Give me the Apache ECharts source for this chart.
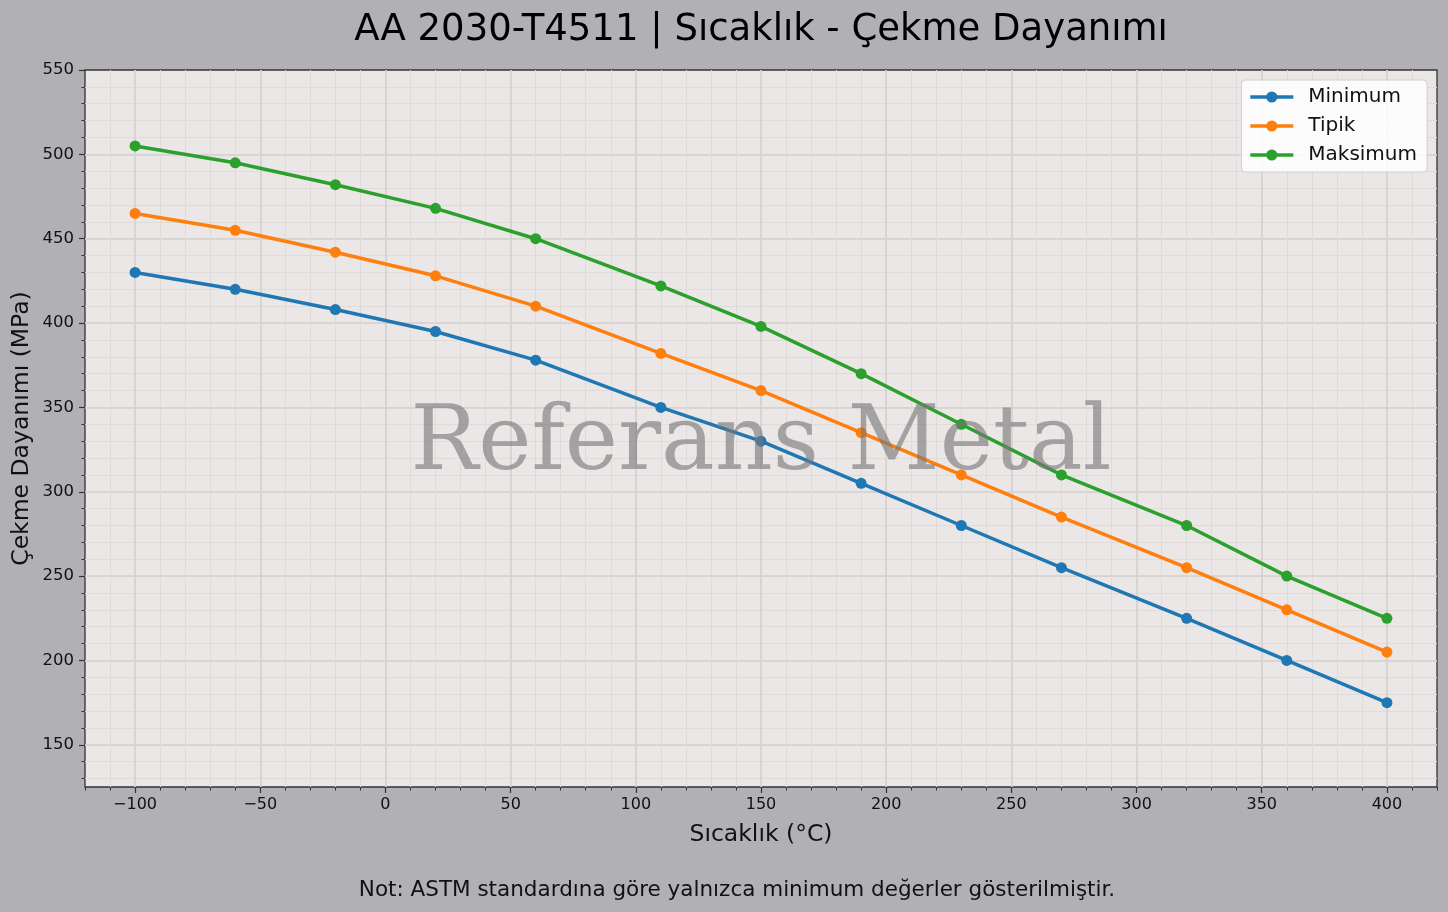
<!DOCTYPE html>
<html>
<head>
<meta charset="utf-8">
<script src="https://cdn.jsdelivr.net/npm/echarts@6/dist/echarts.min.js"></script>
<style>
html,body{margin:0;padding:0;background:#b1b0b5;}
#chart{width:1448px;height:912px;}
</style>
</head>
<body>
<div id="chart"></div>
<script>
const temperatures = [-100, -60, -20, 20, 60, 110, 150, 190, 230, 270, 320, 360, 400];
const minimumValues = [430, 420, 408, 395, 378, 350, 330, 305, 280, 255, 225, 200, 175];
const typicalValues = [465, 455, 442, 428, 410, 382, 360, 335, 310, 285, 255, 230, 205];
const maximumValues = [505, 495, 482, 468, 450, 422, 398, 370, 340, 310, 280, 250, 225];
const seriesNames = ['Minimum', 'Tipik', 'Maksimum'];
const seriesColors = ['#1f77b4', '#ff7f0e', '#2ca02c'];
const titleText = 'AA 2030-T4511 | Sıcaklık - Çekme Dayanımı';
const xAxisTitle = 'Sıcaklık (°C)';
const yAxisTitle = 'Çekme Dayanımı (MPa)';
const noteText = 'Not: ASTM standardına göre yalnızca minimum değerler gösterilmiştir.';
const watermarkText = 'Referans Metal';

const X_MIN = -120, X_MAX = 420, Y_MIN = 125, Y_MAX = 550;
const MAJOR_X_MIN = -100, MAJOR_X_MAX = 400, MAJOR_Y_MIN = 150;
const MINOR_Y_MIN = 130;

// plot frame in pixels
const W = 1448, H = 912;
const plotL = 85, plotR = 1437, plotT = 70, plotB = 787;
const sx = (plotR - plotL) / (X_MAX - X_MIN);
const sy = (plotB - plotT) / (Y_MAX - Y_MIN);
const plotCX = (plotL + plotR) / 2, plotCY = (plotT + plotB) / 2;

const FONT = 'DejaVu Sans';
const MAJ = '#d5d1d0', MIN = '#dfdbda';

function pairs(vals){ return temperatures.map((t,i)=>[t, vals[i]]); }

const chart = echarts.init(document.getElementById('chart'), null, {renderer:'canvas'});

const majLeft = plotL + (MAJOR_X_MIN - X_MIN) * sx;
const majRight = W - (plotR - (X_MAX - MAJOR_X_MAX) * sx);
const majBottom = H - (plotB - (MAJOR_Y_MIN - Y_MIN) * sy);

const grids = [
  // 0 A: main plot
  {left: plotL, right: W - plotR, top: plotT, bottom: H - plotB, show: true,
   backgroundColor: '#ebe7e6', borderColor: '#333', borderWidth: 1.3, containLabel: false},
  // 1 B: minor y ticks / grid
  {left: plotL, right: W - plotR, top: plotT, bottom: H - (plotB - (MINOR_Y_MIN - Y_MIN) * sy), containLabel: false},
  // 2 C: major ticks and labels
  {left: majLeft, right: majRight, top: plotT, bottom: majBottom, containLabel: false},
  // 3 D: major vertical grid lines (full height)
  {left: majLeft, right: majRight, top: plotT, bottom: H - plotB, containLabel: false},
  // 4 E: major horizontal grid lines (full width)
  {left: plotL, right: W - plotR, top: plotT, bottom: majBottom, containLabel: false}
];

const xOffsetC = (MAJOR_Y_MIN - Y_MIN) * sy;
const yOffsetC = (MAJOR_X_MIN - X_MIN) * sx;
const hidden = {axisLine: {show: false, onZero: false}, axisTick: {show: false}, axisLabel: {show: false}};

const option = {
  backgroundColor: '#b1b0b5',
  animation: false,
  legend: {
    data: seriesNames, orient: 'vertical', right: 21, top: 80,
    itemWidth: 43, itemHeight: 14, itemGap: 7,
    padding: [6, 10, 6, 7],
    lineStyle: {width: 3.5},
    backgroundColor: 'rgba(255,255,255,0.85)', borderColor: '#d0d0d0', borderWidth: 1, borderRadius: 4,
    textStyle: {fontFamily: FONT, fontSize: 20, color: '#111', lineHeight: 22, padding: [0, 0, 0, 10]}
  },
  grid: grids,
  xAxis: [
    {gridIndex: 0, type: 'value', min: X_MIN, max: X_MAX, interval: 10,
     axisLine: {show: false, onZero: false}, axisLabel: {show: false},
     axisTick: {show: true, length: 3.5, lineStyle: {color: '#333', width: 1}},
     splitLine: {show: true, showMinLine: false, showMaxLine: false,
       lineStyle: {color: MIN, width: 1}},
     name: xAxisTitle, nameLocation: 'middle', nameGap: 36,
     nameTextStyle: {fontFamily: FONT, fontSize: 23.5, color: '#111'}},
    {gridIndex: 1, type: 'value', min: X_MIN, max: X_MAX, show: false, axisLine: {onZero: false}},
    {gridIndex: 2, type: 'value', min: MAJOR_X_MIN, max: MAJOR_X_MAX, interval: 50,
     offset: xOffsetC, axisLine: {show: false, onZero: false},
     axisTick: {show: true, length: 6, lineStyle: {color: '#333', width: 1.2}},
     axisLabel: {show: true, margin: 10, fontFamily: FONT, fontSize: 16, color: '#111',
       formatter: v => (v < 0 ? '\u2212' + Math.abs(v) : String(v))},
     splitLine: {show: false}},
    Object.assign({gridIndex: 3, type: 'value', min: MAJOR_X_MIN, max: MAJOR_X_MAX, interval: 50,
     splitLine: {show: true, showMinLine: true, showMaxLine: true, lineStyle: {color: MAJ, width: 1.6}}}, hidden),
    {gridIndex: 4, type: 'value', min: X_MIN, max: X_MAX, show: false, axisLine: {onZero: false}}
  ],
  yAxis: [
    {gridIndex: 0, type: 'value', min: Y_MIN, max: Y_MAX,
     axisLine: {show: false, onZero: false}, axisTick: {show: false}, axisLabel: {show: false},
     splitLine: {show: false},
     name: yAxisTitle, nameLocation: 'middle', nameGap: 51, nameRotate: 90,
     nameTextStyle: {fontFamily: FONT, fontSize: 23.5, color: '#111'}},
    {gridIndex: 1, type: 'value', min: MINOR_Y_MIN, max: Y_MAX, interval: 10,
     axisLine: {show: false, onZero: false}, axisLabel: {show: false},
     axisTick: {show: true, length: 3.5, lineStyle: {color: '#333', width: 1}},
     splitLine: {show: true, showMaxLine: false, lineStyle: {color: MIN, width: 1}}},
    {gridIndex: 2, type: 'value', min: MAJOR_Y_MIN, max: Y_MAX, interval: 50,
     offset: yOffsetC, axisLine: {show: false, onZero: false},
     axisTick: {show: true, length: 6, lineStyle: {color: '#333', width: 1.2}},
     axisLabel: {show: true, margin: 11, fontFamily: FONT, fontSize: 16.5, color: '#111'},
     splitLine: {show: false}},
    {gridIndex: 3, type: 'value', min: Y_MIN, max: Y_MAX, show: false, axisLine: {onZero: false}},
    Object.assign({gridIndex: 4, type: 'value', min: MAJOR_Y_MIN, max: Y_MAX, interval: 50,
     splitLine: {show: true, showMinLine: true, showMaxLine: false, lineStyle: {color: MAJ, width: 1.6}}}, hidden)
  ],
  graphic: [
    {type: 'text', z: 100, x: plotCX, y: 30,
     style: {text: titleText, fontFamily: FONT, fontSize: 37, fill: '#000',
       align: 'center', verticalAlign: 'middle'}},
    {type: 'text', z: 100, x: 737, y: 890,
     style: {text: noteText, fontFamily: FONT, fontSize: 21.5, fill: '#111',
       align: 'center', verticalAlign: 'middle'}},
    {type: 'text', z: 100, x: plotCX, y: plotCY + 17,
     style: {text: watermarkText, fontFamily: 'DejaVu Serif', fontSize: 90,
       fill: 'rgba(120,118,118,0.62)', align: 'center', verticalAlign: 'middle'}}
  ],
  series: [minimumValues, typicalValues, maximumValues].map((vals, i) => ({
    name: seriesNames[i], type: 'line', xAxisIndex: 0, yAxisIndex: 0,
    data: pairs(vals), symbol: 'circle', symbolSize: 11, showSymbol: true,
    lineStyle: {width: 3.5, color: seriesColors[i]},
    itemStyle: {color: seriesColors[i]}, z: 3
  }))
};
chart.setOption(option);
</script>
</body>
</html>
